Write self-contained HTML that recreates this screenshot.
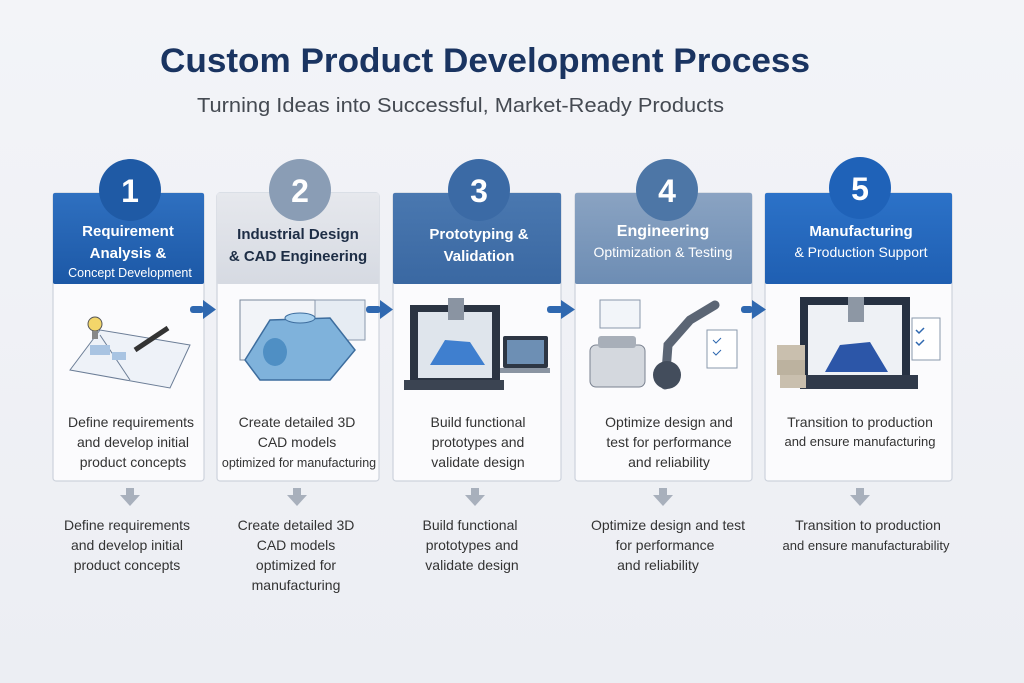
<!DOCTYPE html>
<html><head><meta charset="utf-8"><style>
html,body{margin:0;padding:0;background:#eff0f5;}
svg{display:block;font-family:"Liberation Sans",sans-serif;}
</style></head><body>
<svg width="1024" height="683" viewBox="0 0 1024 683" xmlns="http://www.w3.org/2000/svg">
<defs>
<linearGradient id="bg" x1="0" y1="0" x2="0" y2="1"><stop offset="0" stop-color="#f3f4f8"/><stop offset="1" stop-color="#eceef3"/></linearGradient>
<linearGradient id="h1" x1="0" y1="0" x2="0" y2="1"><stop offset="0" stop-color="#2f70c0"/><stop offset="1" stop-color="#1c58a6"/></linearGradient>
<linearGradient id="h2" x1="0" y1="0" x2="0" y2="1"><stop offset="0" stop-color="#e6e8ed"/><stop offset="1" stop-color="#d6dae2"/></linearGradient>
<linearGradient id="h3" x1="0" y1="0" x2="0" y2="1"><stop offset="0" stop-color="#4a78b0"/><stop offset="1" stop-color="#3a68a2"/></linearGradient>
<linearGradient id="h4" x1="0" y1="0" x2="0" y2="1"><stop offset="0" stop-color="#8aa3c2"/><stop offset="1" stop-color="#6d8db4"/></linearGradient>
<linearGradient id="h5" x1="0" y1="0" x2="0" y2="1"><stop offset="0" stop-color="#2c72c8"/><stop offset="1" stop-color="#1f5fb2"/></linearGradient>
</defs>
<rect width="1024" height="683" fill="url(#bg)"/>
<text x="160" y="72" font-size="34" font-weight="bold" fill="#1a3461" textLength="650" lengthAdjust="spacingAndGlyphs">Custom Product Development Process</text>
<text x="197" y="112" font-size="20" fill="#454a52" textLength="527" lengthAdjust="spacingAndGlyphs">Turning Ideas into Successful, Market-Ready Products</text>

<g stroke="#cdd3dc" stroke-width="1.2">
<rect x="53" y="193" width="151" height="288" rx="3" fill="#fbfbfd"/>
<rect x="217" y="193" width="162" height="288" rx="3" fill="#fbfbfd"/>
<rect x="393" y="193" width="168" height="288" rx="3" fill="#fbfbfd"/>
<rect x="575" y="193" width="177" height="288" rx="3" fill="#fbfbfd"/>
<rect x="765" y="193" width="187" height="288" rx="3" fill="#fbfbfd"/>
</g>
<rect x="53" y="193" width="151" height="91" rx="2" fill="url(#h1)"/>
<rect x="217" y="193" width="162" height="91" rx="2" fill="url(#h2)"/>
<rect x="393" y="193" width="168" height="91" rx="2" fill="url(#h3)"/>
<rect x="575" y="193" width="177" height="91" rx="2" fill="url(#h4)"/>
<rect x="765" y="193" width="187" height="91" rx="2" fill="url(#h5)"/>

<g font-weight="bold" font-size="32" fill="#fff" text-anchor="middle">
<circle cx="130" cy="190" r="31" fill="#1f5aa5"/><text x="130" y="202">1</text>
<circle cx="300" cy="190" r="31" fill="#8a9db5"/><text x="300" y="202">2</text>
<circle cx="479" cy="190" r="31" fill="#3b6aa5"/><text x="479" y="202">3</text>
<circle cx="667" cy="190" r="31" fill="#4d76a6"/><text x="667" y="202">4</text>
<circle cx="860" cy="188" r="31" fill="#1f62b8"/><text x="860" y="200">5</text>
</g>

<g font-weight="bold" text-anchor="middle">
<text x="128" y="236" font-size="15" fill="#fff">Requirement</text>
<text x="128" y="258" font-size="15" fill="#fff">Analysis &amp;</text>
<text x="130" y="277" font-size="12.5" fill="#fff" font-weight="normal">Concept Development</text>
<text x="298" y="239" font-size="15" fill="#1d2d45">Industrial Design</text>
<text x="298" y="261" font-size="15" fill="#1d2d45">&amp; CAD Engineering</text>
<text x="479" y="239" font-size="15" fill="#fff">Prototyping &amp;</text>
<text x="479" y="261" font-size="15" fill="#fff">Validation</text>
<text x="663" y="236" font-size="16" fill="#fff">Engineering</text>
<text x="663" y="257" font-size="14" fill="#fff" font-weight="normal">Optimization &amp; Testing</text>
<text x="861" y="236" font-size="15" fill="#fff">Manufacturing</text>
<text x="861" y="257" font-size="14" fill="#fff" font-weight="normal">&amp; Production Support</text>
</g>

<!-- right arrows -->
<g fill="#2f68b0">
<rect x="190" y="306" width="14" height="7" rx="3"/><polygon points="203,300 216,309.5 203,319"/>
<rect x="366" y="306" width="15" height="7" rx="3"/><polygon points="380,300 393,309.5 380,319"/>
<rect x="547" y="306" width="16" height="7" rx="3"/><polygon points="561,300 575,309.5 561,319"/>
<rect x="741" y="306" width="12" height="7" rx="3"/><polygon points="752,300 766,309.5 752,319"/>
</g>

<!-- illustrations -->
<g>
<!-- 1 notebook -->
<polygon points="70,370 100,330 190,345 170,388" fill="#eef2f8" stroke="#6b7d96"/>
<line x1="100" y1="335" x2="130" y2="380" stroke="#6b7d96"/>
<rect x="90" y="345" width="20" height="10" fill="#a9c4e2"/><rect x="112" y="352" width="14" height="8" fill="#a9c4e2"/>
<circle cx="95" cy="324" r="7" fill="#f3d66a" stroke="#555"/><rect x="92" y="331" width="6" height="8" fill="#888"/>
<line x1="135" y1="350" x2="168" y2="328" stroke="#333" stroke-width="5"/>
<!-- 2 CAD -->
<rect x="240" y="300" width="75" height="60" fill="#f2f4f8" stroke="#7a889c"/>
<rect x="315" y="300" width="50" height="40" fill="#e6ecf3" stroke="#8a98ac"/>
<polygon points="245,360 270,320 330,318 355,350 330,380 260,380" fill="#7fb2db" stroke="#3d6d9e" stroke-width="1.5"/>
<ellipse cx="275" cy="352" rx="12" ry="14" fill="#4f8fc4"/>
<ellipse cx="300" cy="318" rx="15" ry="5" fill="#a8d0ee" stroke="#3d6d9e"/>
<!-- 3 printer -->
<rect x="410" y="305" width="90" height="80" fill="#2b3442"/>
<rect x="418" y="312" width="74" height="66" fill="#dfe5ec"/>
<rect x="448" y="298" width="16" height="22" fill="#8a94a2"/>
<polygon points="430,365 445,340 470,342 485,365" fill="#3f7fcf"/>
<rect x="404" y="380" width="100" height="10" fill="#3b4452"/>
<rect x="503" y="336" width="45" height="32" fill="#2d3644" rx="2"/><rect x="507" y="340" width="37" height="24" fill="#6d8fb4"/>
<rect x="500" y="368" width="50" height="5" fill="#8a94a2"/>
<!-- 4 robot -->
<rect x="590" y="345" width="55" height="42" rx="6" fill="#d4d8de" stroke="#7a8290"/>
<rect x="598" y="336" width="38" height="12" rx="3" fill="#a8afb9"/>
<path d="M665,385 L668,345 L690,320 L715,305" stroke="#5b6574" stroke-width="9" fill="none" stroke-linecap="round"/>
<ellipse cx="667" cy="375" rx="14" ry="14" fill="#434d5c"/>
<rect x="707" y="330" width="30" height="38" fill="#fff" stroke="#8a98ac"/>
<path d="M713,340 l3,3 l5,-5 M713,352 l3,3 l5,-5" stroke="#2f68b0" fill="none"/>
<rect x="600" y="300" width="40" height="28" fill="#f2f5f9" stroke="#8a98ac"/>
<!-- 5 printer -->
<rect x="800" y="297" width="110" height="85" fill="#263142"/>
<rect x="808" y="305" width="94" height="70" fill="#eef1f5"/>
<rect x="848" y="297" width="16" height="25" fill="#8d97a4"/>
<polygon points="825,372 840,345 870,342 888,372" fill="#2c56a8"/>
<rect x="800" y="375" width="118" height="14" fill="#303a4a"/>
<rect x="777" y="345" width="28" height="15" fill="#c9bfae"/><rect x="777" y="360" width="28" height="15" fill="#bcb29f"/><rect x="780" y="375" width="26" height="13" fill="#c9bfae"/>
<rect x="912" y="318" width="28" height="42" fill="#fff" stroke="#8a98ac"/>
<path d="M916,330 l3,3 l5,-5 M916,342 l3,3 l5,-5" stroke="#2f68b0" fill="none" stroke-width="1.5"/>
</g>

<!-- card body text -->
<g font-size="14" fill="#333" text-anchor="middle">
<text x="131" y="427">Define requirements</text>
<text x="133" y="447">and develop initial</text>
<text x="133" y="467">product concepts</text>
<text x="297" y="427">Create detailed 3D</text>
<text x="297" y="447">CAD models</text>
<text x="299" y="467" font-size="12.5">optimized for manufacturing</text>
<text x="478" y="427">Build functional</text>
<text x="478" y="447">prototypes and</text>
<text x="478" y="467">validate design</text>
<text x="669" y="427">Optimize design and</text>
<text x="669" y="447">test for performance</text>
<text x="669" y="467">and reliability</text>
<text x="860" y="427">Transition to production</text>
<text x="860" y="446" font-size="13">and ensure manufacturing</text>
</g>

<!-- down arrows -->
<g fill="#a8b0bc">
<rect x="126" y="488" width="8" height="8"/><polygon points="120,495 140,495 130,506"/>
<rect x="293" y="488" width="8" height="8"/><polygon points="287,495 307,495 297,506"/>
<rect x="471" y="488" width="8" height="8"/><polygon points="465,495 485,495 475,506"/>
<rect x="659" y="488" width="8" height="8"/><polygon points="653,495 673,495 663,506"/>
<rect x="856" y="488" width="8" height="8"/><polygon points="850,495 870,495 860,506"/>
</g>

<g font-size="14" fill="#333" text-anchor="middle">
<text x="127" y="530">Define requirements</text>
<text x="127" y="550">and develop initial</text>
<text x="127" y="570">product concepts</text>
<text x="296" y="530">Create detailed 3D</text>
<text x="296" y="550">CAD models</text>
<text x="296" y="570">optimized for</text>
<text x="296" y="590">manufacturing</text>
<text x="470" y="530">Build functional</text>
<text x="472" y="550">prototypes and</text>
<text x="472" y="570">validate design</text>
<text x="668" y="530">Optimize design and test</text>
<text x="665" y="550">for performance</text>
<text x="658" y="570">and reliability</text>
<text x="868" y="530">Transition to production</text>
<text x="866" y="550" font-size="13">and ensure manufacturability</text>
</g>
</svg>
</body></html>
